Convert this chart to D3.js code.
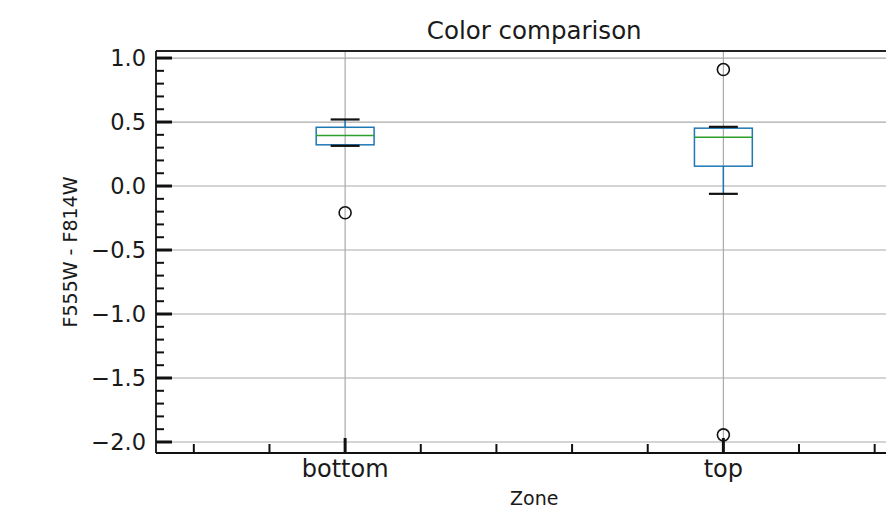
<!DOCTYPE html>
<html><head><meta charset="utf-8">
<script src="https://cdn.jsdelivr.net/npm/d3@7"></script>
<style>body{margin:0;background:#fff}svg{display:block}text{font-family:"DejaVu Sans",sans-serif;fill:#1a1a1a}</style>
</head><body><svg id="c" width="886" height="514"></svg>
<script>
const categories = ["bottom", "top"];
const whiskerLow = [0.314, -0.061];
const q1 = [0.322, 0.155];
const median = [0.395, 0.381];
const q3 = [0.459, 0.452];
const whiskerHigh = [0.52, 0.4625];
const outliers = [[-0.209], [0.910, -1.944]];
const yTicks = [-2.0, -1.5, -1.0, -0.5, 0.0, 0.5, 1.0];
const title = "Color comparison";
const xLabel = "Zone";
const yLabel = "F555W - F814W";

const svg = d3.select("#c");
const L = 156, T = 51, B = 453, R = 912.5;
const x = d3.scaleLinear().domain([0.5, 2.5]).range([L, R]);
const y = d3.scaleLinear().domain([-2.086, 1.055]).range([B, T]);

const g = svg.append("g");
// grid
g.selectAll(".gy").data(yTicks).join("line")
  .attr("x1", L).attr("x2", R).attr("y1", d => y(d)).attr("y2", d => y(d))
  .attr("stroke", "#aaaaaa").attr("stroke-width", 1.2);
g.selectAll(".gx").data(categories).join("line")
  .attr("x1", (d, i) => x(i + 1)).attr("x2", (d, i) => x(i + 1)).attr("y1", T).attr("y2", B)
  .attr("stroke", "#aaaaaa").attr("stroke-width", 1.2);

// boxes
const bw = 0.153, cw = bw / 2;
categories.forEach((c, i) => {
  const p = i + 1;
  const col = "#1f77b4";
  g.append("line").attr("x1", x(p)).attr("x2", x(p)).attr("y1", y(q1[i])).attr("y2", y(whiskerLow[i])).attr("stroke", col).attr("stroke-width", 1.5);
  g.append("line").attr("x1", x(p)).attr("x2", x(p)).attr("y1", y(q3[i])).attr("y2", y(whiskerHigh[i])).attr("stroke", col).attr("stroke-width", 1.5);
  g.append("rect").attr("x", x(p - bw / 2)).attr("width", x(p + bw / 2) - x(p - bw / 2))
    .attr("y", y(q3[i])).attr("height", y(q1[i]) - y(q3[i]))
    .attr("fill", "none").attr("stroke", col).attr("stroke-width", 1.5);
  g.append("line").attr("x1", x(p - bw / 2)).attr("x2", x(p + bw / 2)).attr("y1", y(median[i])).attr("y2", y(median[i])).attr("stroke", "#2ca02c").attr("stroke-width", 1.5);
  [whiskerLow[i], whiskerHigh[i]].forEach(v => {
    g.append("line").attr("x1", x(p - cw / 2)).attr("x2", x(p + cw / 2)).attr("y1", y(v)).attr("y2", y(v)).attr("stroke", "#111").attr("stroke-width", 2.2);
  });
  outliers[i].forEach(v => {
    g.append("circle").attr("cx", x(p)).attr("cy", y(v)).attr("r", 6).attr("fill", "none").attr("stroke", "#111").attr("stroke-width", 1.6);
  });
});

// y axis ticks (inward)
const yMinor = d3.range(-20, 11).map(k => k / 10).filter(v => Math.abs(v * 2 - Math.round(v * 2)) > 1e-6);
g.selectAll(".ymi").data(yMinor).join("line")
  .attr("x1", L).attr("x2", L + 8).attr("y1", d => y(d)).attr("y2", d => y(d)).attr("stroke", "#111").attr("stroke-width", 2);
g.selectAll(".yma").data(yTicks).join("line")
  .attr("x1", L).attr("x2", L + 16).attr("y1", d => y(d)).attr("y2", d => y(d)).attr("stroke", "#111").attr("stroke-width", 3);
g.selectAll(".ytl").data(yTicks).join("text")
  .attr("x", L - 10).attr("y", d => y(d)).attr("dy", "0.36em").attr("text-anchor", "end")
  .style("font-size", "22.5px").text(d => d3.format(".1f")(d).replace("-", "\u2212"));

// x axis ticks
const xMinorVals = [0.6, 0.8, 1.2, 1.4, 1.6, 1.8, 2.2, 2.4];
g.selectAll(".xmi").data(xMinorVals).join("line")
  .attr("x1", d => x(d)).attr("x2", d => x(d)).attr("y1", B).attr("y2", B - 9).attr("stroke", "#111").attr("stroke-width", 2);
g.selectAll(".xma").data(categories).join("line")
  .attr("x1", (d, i) => x(i + 1)).attr("x2", (d, i) => x(i + 1)).attr("y1", B).attr("y2", B - 15).attr("stroke", "#111").attr("stroke-width", 3);
g.selectAll(".xtl").data(categories).join("text")
  .attr("x", (d, i) => x(i + 1)).attr("y", 477).attr("text-anchor", "middle")
  .style("font-size", "24px").text(d => d);

// spines
g.append("line").attr("x1", L).attr("x2", L).attr("y1", T).attr("y2", B).attr("stroke", "#111").attr("stroke-width", 1.8);
g.append("line").attr("x1", L).attr("x2", R).attr("y1", B).attr("y2", B).attr("stroke", "#111").attr("stroke-width", 1.8);
g.append("line").attr("x1", L).attr("x2", R).attr("y1", T).attr("y2", T).attr("stroke", "#222").attr("stroke-width", 2);

// labels
svg.append("text").attr("x", (L + R) / 2).attr("y", 39).attr("text-anchor", "middle").style("font-size", "24.5px").text(title);
svg.append("text").attr("x", (L + R) / 2).attr("y", 505).attr("text-anchor", "middle").style("font-size", "19px").text(xLabel);
svg.append("text").attr("transform", `translate(77,${(T + B) / 2}) rotate(-90)`).attr("text-anchor", "middle").style("font-size", "19px").text(yLabel);
</script></body></html>
